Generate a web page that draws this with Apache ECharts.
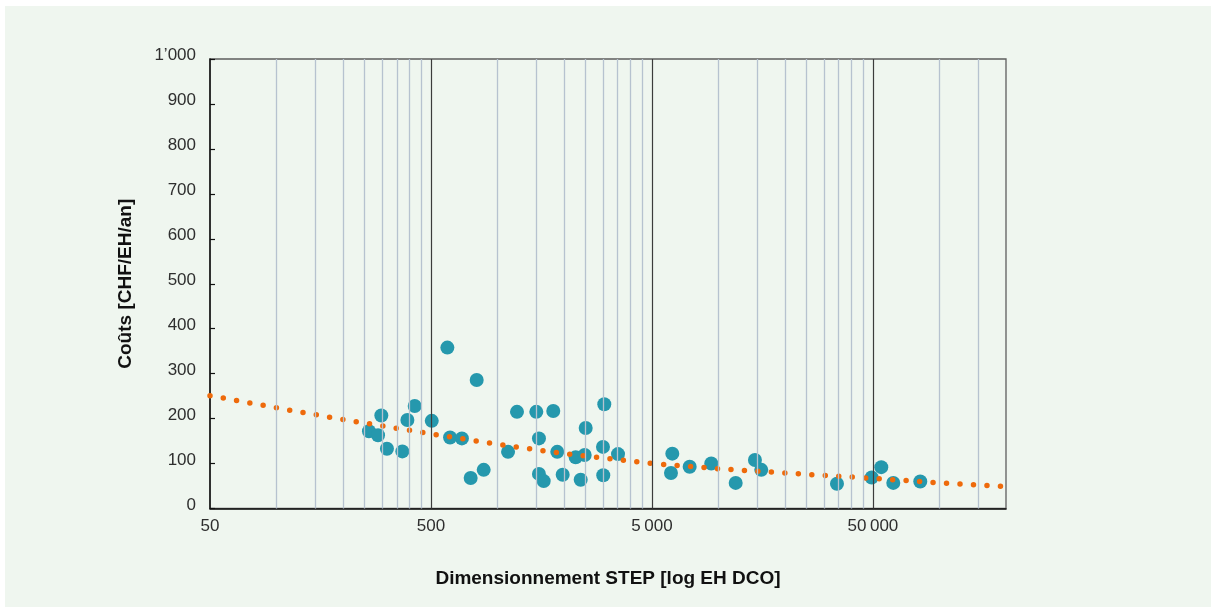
<!DOCTYPE html>
<html>
<head>
<meta charset="utf-8">
<script src="https://cdn.jsdelivr.net/npm/echarts@6/dist/echarts.min.js"></script>
<style>
  html, body { margin: 0; padding: 0; background: #ffffff; }
  #chart { position: absolute; left: 5px; top: 6px; width: 1206px; height: 601px; background: #eff6ef; }
</style>
</head>
<body>
<div id="chart"></div>
<script>
// Plant size (population equivalents) and annual cost per PE
const plantSize = [593, 805, 422, 298, 391, 504, 262, 288, 316, 371,
                   610, 690, 756, 866, 1116, 1225, 1498, 1788, 1540, 1540,
                   1618, 1864, 1972, 2258, 2480, 2379, 2506, 3042, 3001, 3010,
                   3510, 6180, 6095, 7406, 9276, 11960, 14620, 15617, 34370, 49320,
                   54530, 61800, 81860];
const plantCost = [358, 286, 228, 207, 197, 195, 172, 163, 133, 127,
                   158, 156, 68, 86, 126, 215, 215, 217, 156, 77,
                   61, 126, 75, 114, 119, 64, 179, 232, 137, 74,
                   121, 122, 79, 93, 100, 57, 108, 86, 55, 69,
                   92, 57, 60];

// Trend curve of cost vs. size
const trendSize = [50, 100, 200, 500, 1000, 2000, 5000, 10000, 20000, 50000, 100000, 200000];
const trendCost = [251, 224, 198, 166, 143, 122, 100, 88.5, 79, 67, 57, 49];

// Axis ticks and grid lines
const xLabelValues = [50, 500, 5000, 50000];
const majorGrid = [500, 5000, 50000];
const minorGrid = [100, 150, 200, 250, 300, 350, 400, 450,
                   1000, 1500, 2000, 2500, 3000, 3500, 4000, 4500,
                   10000, 15000, 20000, 25000, 30000, 35000, 40000, 45000,
                   100000, 150000];

const FONT = 'Liberation Sans';
const TEXT = '#2e2e2e';

function fmtThousands(v) {
  const s = String(Math.round(v));
  return s.length > 3 ? s.slice(0, s.length - 3) + '\u2009' + s.slice(-3) : s;
}

const chart = echarts.init(document.getElementById('chart'), null, { renderer: 'canvas' });

chart.setOption({
  animation: false,
  backgroundColor: 'transparent',
  textStyle: { fontFamily: FONT },
  grid: {
    left: 205, top: 53, width: 796, height: 449.5,
    show: true, borderColor: '#5e5e5e', borderWidth: 1.3, backgroundColor: 'transparent'
  },
  xAxis: {
    type: 'log', logBase: 10, min: 50, max: 200000,
    name: 'Dimensionnement STEP [log EH DCO]',
    nameLocation: 'middle', nameGap: 61,
    nameTextStyle: { fontFamily: FONT, fontWeight: 'bold', fontSize: 19, color: '#111' },
    axisLine: { show: true, lineStyle: { color: '#111', width: 1.5 } },
    axisTick: { show: false },
    axisLabel: { show: false },
    splitLine: { show: false },
    minorSplitLine: { show: false }
  },
  yAxis: {
    type: 'value', min: 0, max: 1000, interval: 100,
    name: 'Coûts [CHF/EH/an]',
    nameLocation: 'middle', nameGap: 75, nameRotate: 90,
    nameTextStyle: { fontFamily: FONT, fontWeight: 'bold', fontSize: 19, color: '#111' },
    axisLine: { show: true, lineStyle: { color: '#111', width: 1.5 } },
    axisTick: { show: true, inside: true, length: 5, lineStyle: { color: '#111', width: 1.2 } },
    axisLabel: {
      margin: 14, fontSize: 17, color: TEXT, fontFamily: FONT,
      verticalAlign: 'bottom', lineHeight: 7,
      formatter: v => (v >= 1000 ? String(Math.floor(v / 1000)) + '\u2019' + String(v % 1000).padStart(3, '0') : String(v))
    },
    splitLine: { show: false }
  },
  series: [
    {
      // grid lines and x-axis labels, placed through the log scale
      type: 'line',
      data: [],
      silent: true,
      z: 1,
      markLine: {
        silent: true,
        symbol: 'none',
        animation: false,
        data: [
          ...minorGrid.map(v => ({ xAxis: v, lineStyle: { color: '#b6c2cf', width: 1.3, type: 'solid' }, label: { show: false } })),
          ...majorGrid.map(v => ({ xAxis: v, lineStyle: { color: '#3c3c3c', width: 1.2, type: 'solid' }, label: { show: false } })),
          ...xLabelValues.map(v => ({
            xAxis: v,
            lineStyle: { color: 'rgba(0,0,0,0)', width: 0 },
            label: {
              show: true, position: 'start', distance: 9,
              formatter: () => fmtThousands(v),
              fontSize: 17, color: TEXT, fontFamily: FONT
            }
          }))
        ]
      }
    },
    {
      type: 'scatter',
      data: plantSize.map((x, i) => [x, plantCost[i]]),
      symbolSize: 14,
      itemStyle: { color: '#2598ad', opacity: 1 },
      z: 3
    },
    {
      type: 'line',
      data: trendSize.map((x, i) => [x, trendCost[i]]),
      showSymbol: false,
      symbol: 'none',
      smooth: false,
      lineStyle: { color: '#ee6a0b', width: 5.5, type: [0, 13.5], cap: 'round' },
      z: 4
    }
  ]
});
</script>
</body>
</html>
